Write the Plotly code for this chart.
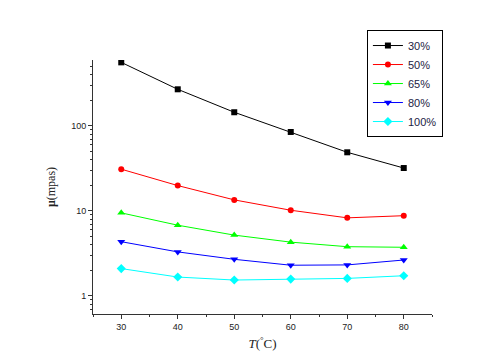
import plotly.graph_objects as go

temps = [30, 40, 50, 60, 70, 80]
mu_30 = [560, 270, 145, 85, 49, 32]
mu_50 = [31, 19.9, 13.5, 10.2, 8.3, 8.8]
mu_65 = [9.5, 6.8, 5.2, 4.3, 3.8, 3.74]
mu_80 = [4.35, 3.3, 2.7, 2.3, 2.32, 2.65]
mu_100 = [2.1, 1.67, 1.54, 1.58, 1.61, 1.73]

series = [
    ("30%", mu_30, "#000000", "square", 6),
    ("50%", mu_50, "#FF0000", "circle", 6),
    ("65%", mu_65, "#00FF00", "triangle-up", 7),
    ("80%", mu_80, "#0000FF", "triangle-down", 7),
    ("100%", mu_100, "#00FFFF", "diamond", 7),
]

fig = go.Figure()
for name, vals, color, sym, sz in series:
    fig.add_trace(go.Scatter(
        x=temps, y=vals, name=name, mode="lines+markers",
        line=dict(color=color, width=1),
        marker=dict(symbol=sym, size=sz, color=color),
    ))

axis_color = "#333333"
fig.update_layout(
    width=480, height=360,
    margin=dict(l=85, r=56, t=52, b=54),
    paper_bgcolor="white", plot_bgcolor="white",
    font=dict(family="Arial", size=9, color="#222222"),
    showlegend=True,
    legend=dict(
        x=0.808, y=1.118, xanchor="left", yanchor="top",
        bordercolor="#000000", borderwidth=1, bgcolor="white",
        font=dict(family="Arial", size=11, color="#222244"),
        tracegroupgap=0, itemwidth=30,
    ),
    xaxis=dict(
        range=[25, 85], tickmode="linear", tick0=30, dtick=10,
        showgrid=False, zeroline=False,
        showline=True, linecolor=axis_color, linewidth=1,
        ticks="outside", ticklen=4, tickcolor=axis_color,
        minor=dict(ticks="outside", ticklen=2, tick0=25, dtick=5, tickcolor=axis_color),
        title=dict(text="<i>T</i>(<sup>°</sup>C)", font=dict(family="Liberation Serif", size=13, color="#222222"), standoff=8),
    ),
    yaxis=dict(
        type="log", range=[-0.212, 2.776],
        tickvals=[1, 10, 100], ticktext=["1", "10", "100"],
        showgrid=False, zeroline=False,
        showline=True, linecolor=axis_color, linewidth=1,
        ticks="outside", ticklen=4, tickcolor=axis_color,
        minor=dict(ticks="outside", ticklen=2, dtick="D1", tickcolor=axis_color),
        title=dict(text="<b>μ</b>(mpas)", font=dict(family="Liberation Serif", size=12, color="#222222"), standoff=12),
    ),
)

fig.write_html("out.html")
